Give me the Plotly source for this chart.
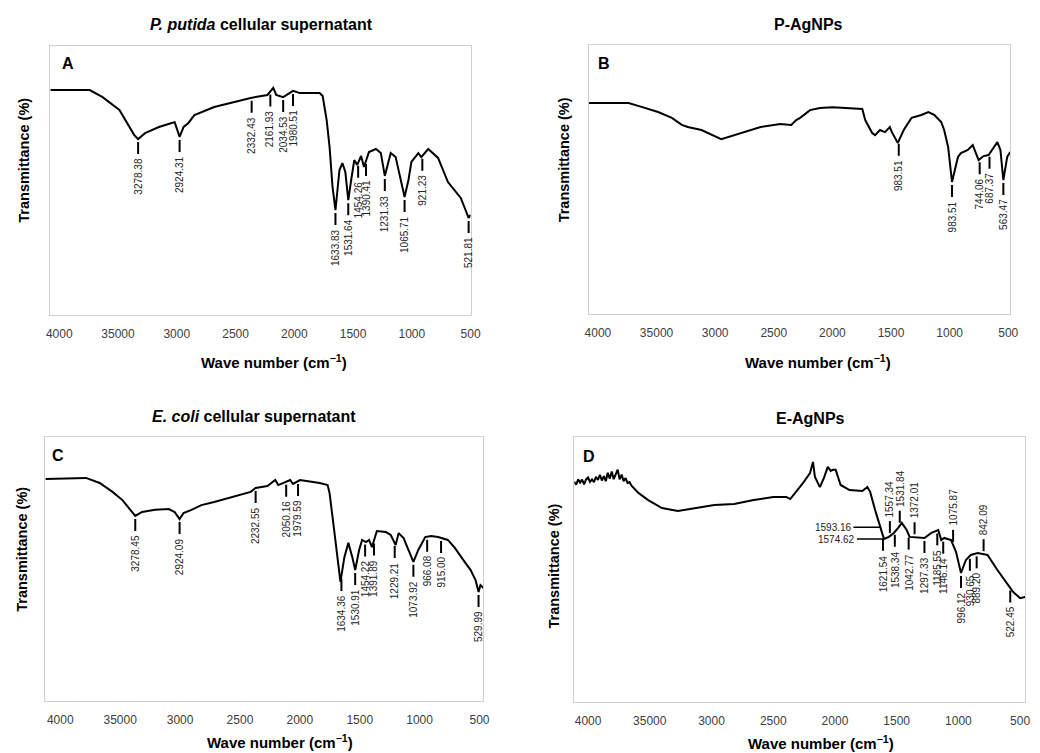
import numpy as np
import plotly.graph_objects as go

W, H = 1040, 753
FONT = "Liberation Sans, Arial, sans-serif"

# ---------------- Data ----------------
tick_vals = [4000, 3500, 3000, 2500, 2000, 1500, 1000, 500]
tick_text = ["4000", "35000", "3000", "2500", "2000", "1500", "1000", "500"]

# Panel A: P. putida cellular supernatant
wn_a = [4076, 3740, 3631, 3488, 3362, 3329, 3270, 3152, 3043, 3018, 2976, 2942, 2901, 2850,
        2682, 2514, 2372, 2229, 2179, 2154, 2095, 2011, 1952, 1784, 1759, 1725, 1700, 1675,
        1650, 1616, 1591, 1566, 1541, 1516, 1490, 1465, 1432, 1407, 1365, 1306, 1264, 1230,
        1180, 1138, 1096, 1062, 1029, 1004, 945, 920, 861, 777, 693, 584, 517, 500]
t_a = [83.6, 83.6, 81.0, 76.2, 66.9, 65.4, 67.6, 69.9, 71.4, 71.7, 66.2, 69.9, 71.4, 74.3,
       77.3, 79.2, 80.7, 81.8, 84.4, 81.8, 81.0, 83.3, 82.5, 82.5, 81.4, 72.5, 62.4, 47.6,
       39.0, 53.9, 56.5, 53.2, 42.7, 50.2, 57.6, 55.8, 59.1, 55.0, 60.6, 61.7, 60.2, 51.7,
       60.2, 58.7, 50.2, 43.9, 50.2, 56.9, 60.2, 58.7, 61.7, 58.4, 49.4, 43.5, 36.1, 37.2]
lab_a = ["3278.38", "2924.31", "2332.43", "2161.93", "2034.53", "1980.51", "1633.83",
         "1531.64", "1454.26", "1390.41", "1231.33", "1065.71", "921.23", "521.81"]
pos_a = [3329, 2976, 2363, 2204, 2095, 2011, 1650, 1541, 1457, 1390, 1230, 1062, 911, 517]
side_a = ["d"] * 14

# Panel B: P-AgNPs
wn_b = [4076, 3739, 3621, 3487, 3369, 3285, 3234, 3117, 2948, 2780, 2612, 2444, 2351, 2309,
        2275, 2191, 2107, 1998, 1888, 1745, 1720, 1661, 1636, 1594, 1552, 1510, 1493, 1442,
        1392, 1350, 1325, 1241, 1182, 1131, 1072, 1047, 1013, 980, 929, 904, 845, 803, 753,
        711, 668, 593, 567, 542, 509, 483]
t_b = [78.4, 78.4, 76.9, 75.1, 72.9, 70.3, 69.5, 68.4, 65.0, 67.3, 69.5, 70.6, 70.3, 72.1,
       72.9, 75.8, 76.6, 76.9, 76.6, 76.2, 72.1, 67.3, 66.5, 68.4, 67.6, 69.5, 67.6, 63.6,
       68.4, 71.0, 72.9, 74.0, 75.1, 74.0, 71.4, 68.4, 62.1, 49.1, 58.4, 59.8, 61.0, 62.8,
       57.2, 58.7, 59.1, 63.9, 61.0, 49.8, 58.4, 60.2]
lab_b = ["983.51", "983.51", "744.06", "687.37", "563.47"]
pos_b = [1434, 980, 744, 660, 542]
side_b = ["d"] * 5

# Panel C: E. coli cellular supernatant
wn_c = [4124, 3786, 3671, 3564, 3481, 3415, 3374, 3317, 3209, 3094, 3045, 3004, 2971, 2905,
        2822, 2715, 2551, 2411, 2369, 2271, 2205, 2180, 2081, 2057, 1999, 1834, 1768, 1752,
        1727, 1694, 1661, 1628, 1595, 1562, 1538, 1505, 1480, 1447, 1422, 1398, 1357, 1282,
        1241, 1200, 1175, 1134, 1093, 1052, 1011, 953, 904, 846, 764, 706, 624, 574, 533,
        508, 492, 467]
t_c = [84.1, 84.5, 82.6, 79.2, 76.1, 72.4, 70.1, 71.6, 72.4, 72.7, 71.6, 68.9, 71.2, 72.4,
       74.2, 75.4, 77.3, 79.2, 80.7, 81.4, 83.7, 81.8, 83.7, 82.2, 83.7, 82.6, 81.8, 78.8,
       69.7, 57.2, 45.1, 54.5, 59.9, 54.5, 49.6, 57.2, 61.0, 60.2, 61.0, 58.3, 64.4, 64.0,
       62.9, 59.1, 63.6, 61.7, 57.2, 52.7, 57.2, 62.1, 62.5, 62.1, 61.0, 58.0, 52.7, 49.6,
       45.8, 41.3, 43.9, 42.8]
lab_c = ["3278.45", "2924.09", "2232.55", "2050.16", "1979.59", "1634.36", "1530.91",
         "1454.22", "1391.89", "1229.21", "1073.92", "966.08", "915.00", "529.99"]
pos_c = [3374, 3004, 2369, 2114, 2015, 1653, 1538, 1455, 1381, 1208, 1052, 937, 821, 508]
side_c = ["d"] * 14

# Panel D: E-AgNPs (noisy start read point by point)
wn_d = [4112, 4096, 4080, 4064, 4048, 4032, 4016, 4000, 3984, 3968, 3952, 3936, 3920, 3904,
        3888, 3872, 3856, 3840, 3824, 3808, 3792, 3776, 3760, 3744, 3728, 3712, 3696, 3680,
        3664, 3648, 3632, 3592, 3513, 3401, 3273, 3137, 2977, 2817,
        2658, 2498, 2394, 2362, 2314, 2258, 2202, 2178, 2162, 2122, 2090, 2058, 2034, 2018,
        1994, 1954, 1882, 1778, 1738, 1715, 1675, 1643, 1603, 1563, 1523, 1483, 1459, 1419,
        1395, 1275, 1219, 1163, 1139, 1115, 1059, 1019, 979, 939, 900, 844, 764, 684, 604,
        556, 500, 460]
t_d = [83.1, 82.0, 84.0, 82.8, 83.9, 82.1, 84.0, 84.7, 83.1, 84.0, 83.0, 85.0, 83.8, 85.7,
       83.6, 85.2, 83.3, 86.5, 84.3, 87.0, 84.1, 86.2, 87.7, 84.0, 85.8, 83.3, 84.5, 82.7,
       83.0, 81.6, 80.8, 78.9, 76.2, 73.2, 72.1, 73.2, 74.3, 74.7,
       76.2, 77.4, 77.4, 76.6, 79.3, 82.7, 86.4, 90.6, 84.9, 81.1, 84.5, 88.7, 87.2, 87.6,
       87.6, 81.9, 80.0, 79.6, 81.1, 79.3, 72.5, 67.6, 61.5, 62.3, 63.8, 66.0, 67.6, 64.9,
       62.3, 61.9, 63.8, 64.9, 61.1, 61.9, 61.1, 56.6, 48.7, 53.6, 55.5, 56.2, 55.5, 49.8,
       44.9, 41.5, 39.2, 39.6]
lab_d = ["1621.54", "1538.34", "1042.77", "1297.33", "1185.55", "1146.14", "996.12",
         "930.65", "889.20", "522.45",
         "1557.34", "1531.84", "1372.01", "1075.87", "842.09",
         "1593.16", "1574.62"]
pos_d = [1611, 1515, 1403, 1275, 1171, 1123, 979, 907, 852, 580,
         1555, 1475, 1355, 1043, 796,
         1632, 1603]
side_d = ["d"] * 10 + ["u"] * 5 + ["l"] * 2

titles = ["<b><i>P. putida</i> cellular supernatant</b>", "<b>P-AgNPs</b>",
          "<b><i>E. coli</i> cellular supernatant</b>", "<b>E-AgNPs</b>"]
letters = ["A", "B", "C", "D"]

# ---------------- Layout geometry (pixels) ----------------
panels = [
    dict(wn=wn_a, t=t_a, lab=lab_a, pos=pos_a, side=side_a, box=(47, 473, 46, 315),
         xr=[4075.5, 500], title=(261, 25), letter=(65, 63), ytitle=(20, 160), xtitle=(274, 361)),
    dict(wn=wn_b, t=t_b, lab=lab_b, pos=pos_b, side=side_b, box=(593, 1020, 45, 314),
         xr=[4076, 483], title=(815, 25), letter=(608, 63), ytitle=(568, 160), xtitle=(825, 361)),
    dict(wn=wn_c, t=t_c, lab=lab_c, pos=pos_c, side=side_c, box=(42, 486, 437, 701),
         xr=[4124, 467], title=(253, 417), letter=(55, 455), ytitle=(18, 549), xtitle=(280, 741)),
    dict(wn=wn_d, t=t_d, lab=lab_d, pos=pos_d, side=side_d, box=(578, 1035, 437, 702),
         xr=[4112, 460], title=(818, 419), letter=(593, 456), ytitle=(557, 566), xtitle=(828, 742)),
]


def fx(px):
    return px / W


def fy(py):
    return 1 - py / H


fig = go.Figure()
layout = {}
shapes = []
annotations = []
lab_font = dict(family=FONT, size=10, color="#262626")


def paper_text(px, py, text, size, angle=0):
    return dict(xref="paper", yref="paper", x=fx(px), y=fy(py), text=text,
                textangle=angle, showarrow=False, xanchor="center", yanchor="middle",
                font=dict(family=FONT, size=size, color="black"))


for i, p in enumerate(panels):
    n = "" if i == 0 else str(i + 1)
    xa, ya = "x" + n, "y" + n
    x0, x1, y0, y1 = p["box"]
    fig.add_trace(go.Scatter(x=p["wn"], y=p["t"], mode="lines",
                             line=dict(color="black", width=2),
                             xaxis=xa, yaxis=ya, showlegend=False, hoverinfo="skip"))
    layout["xaxis" + n] = dict(domain=[fx(x0), fx(x1)], range=p["xr"], anchor=ya,
                               tickmode="array", tickvals=tick_vals, ticktext=tick_text,
                               showgrid=False, zeroline=False, showline=True,
                               linecolor="#d0d0d0", linewidth=1, mirror=True, ticks="",
                               tickfont=dict(family=FONT, size=12, color="#404040"),
                               ticklabelstandoff=8, fixedrange=True)
    layout["yaxis" + n] = dict(domain=[fy(y1), fy(y0)], range=[0, 100], anchor=xa,
                               showticklabels=False, showgrid=False, zeroline=False,
                               showline=True, linecolor="#d0d0d0", linewidth=1, mirror=True,
                               ticks="", fixedrange=True)

    asc_wn = p["wn"][::-1]
    asc_t = p["t"][::-1]
    for txt, pos, side in zip(p["lab"], p["pos"], p["side"]):
        yc = float(np.interp(pos, asc_wn, asc_t))
        if side == "d":
            shapes.append(dict(type="line", xref=xa, yref=ya, x0=pos, x1=pos,
                               ysizemode="pixel", yanchor=yc, y0=-3, y1=-15,
                               line=dict(color="black", width=2)))
            annotations.append(dict(xref=xa, yref=ya, x=pos, y=yc, text=txt, textangle=-90,
                                    showarrow=False, xanchor="center", yanchor="top",
                                    yshift=-17, font=lab_font))
        elif side == "u":
            shapes.append(dict(type="line", xref=xa, yref=ya, x0=pos, x1=pos,
                               ysizemode="pixel", yanchor=yc, y0=3, y1=15,
                               line=dict(color="black", width=2)))
            annotations.append(dict(xref=xa, yref=ya, x=pos, y=yc, text=txt, textangle=-90,
                                    showarrow=False, xanchor="center", yanchor="bottom",
                                    yshift=17, font=lab_font))
        else:
            annotations.append(dict(xref=xa, yref=ya, x=pos, y=yc, text=txt, showarrow=True,
                                    ax=-47, ay=0, arrowhead=0, arrowwidth=1.6,
                                    arrowcolor="black", standoff=0, font=lab_font))

    annotations.append(paper_text(*p["title"], titles[i], 16))
    annotations.append(paper_text(*p["letter"], "<b>" + letters[i] + "</b>", 16))
    annotations.append(paper_text(*p["ytitle"], "<b>Transmittance (%)</b>", 14.5, angle=-90))
    annotations.append(paper_text(*p["xtitle"],
                                  "<b>Wave number (cm<sup>\u22121</sup>)</b>", 15))

fig.update_layout(width=W, height=H, margin=dict(l=0, r=0, t=0, b=0),
                  paper_bgcolor="white", plot_bgcolor="white",
                  font=dict(family=FONT), shapes=shapes, annotations=annotations,
                  **layout)

fig.write_html("out.html")
